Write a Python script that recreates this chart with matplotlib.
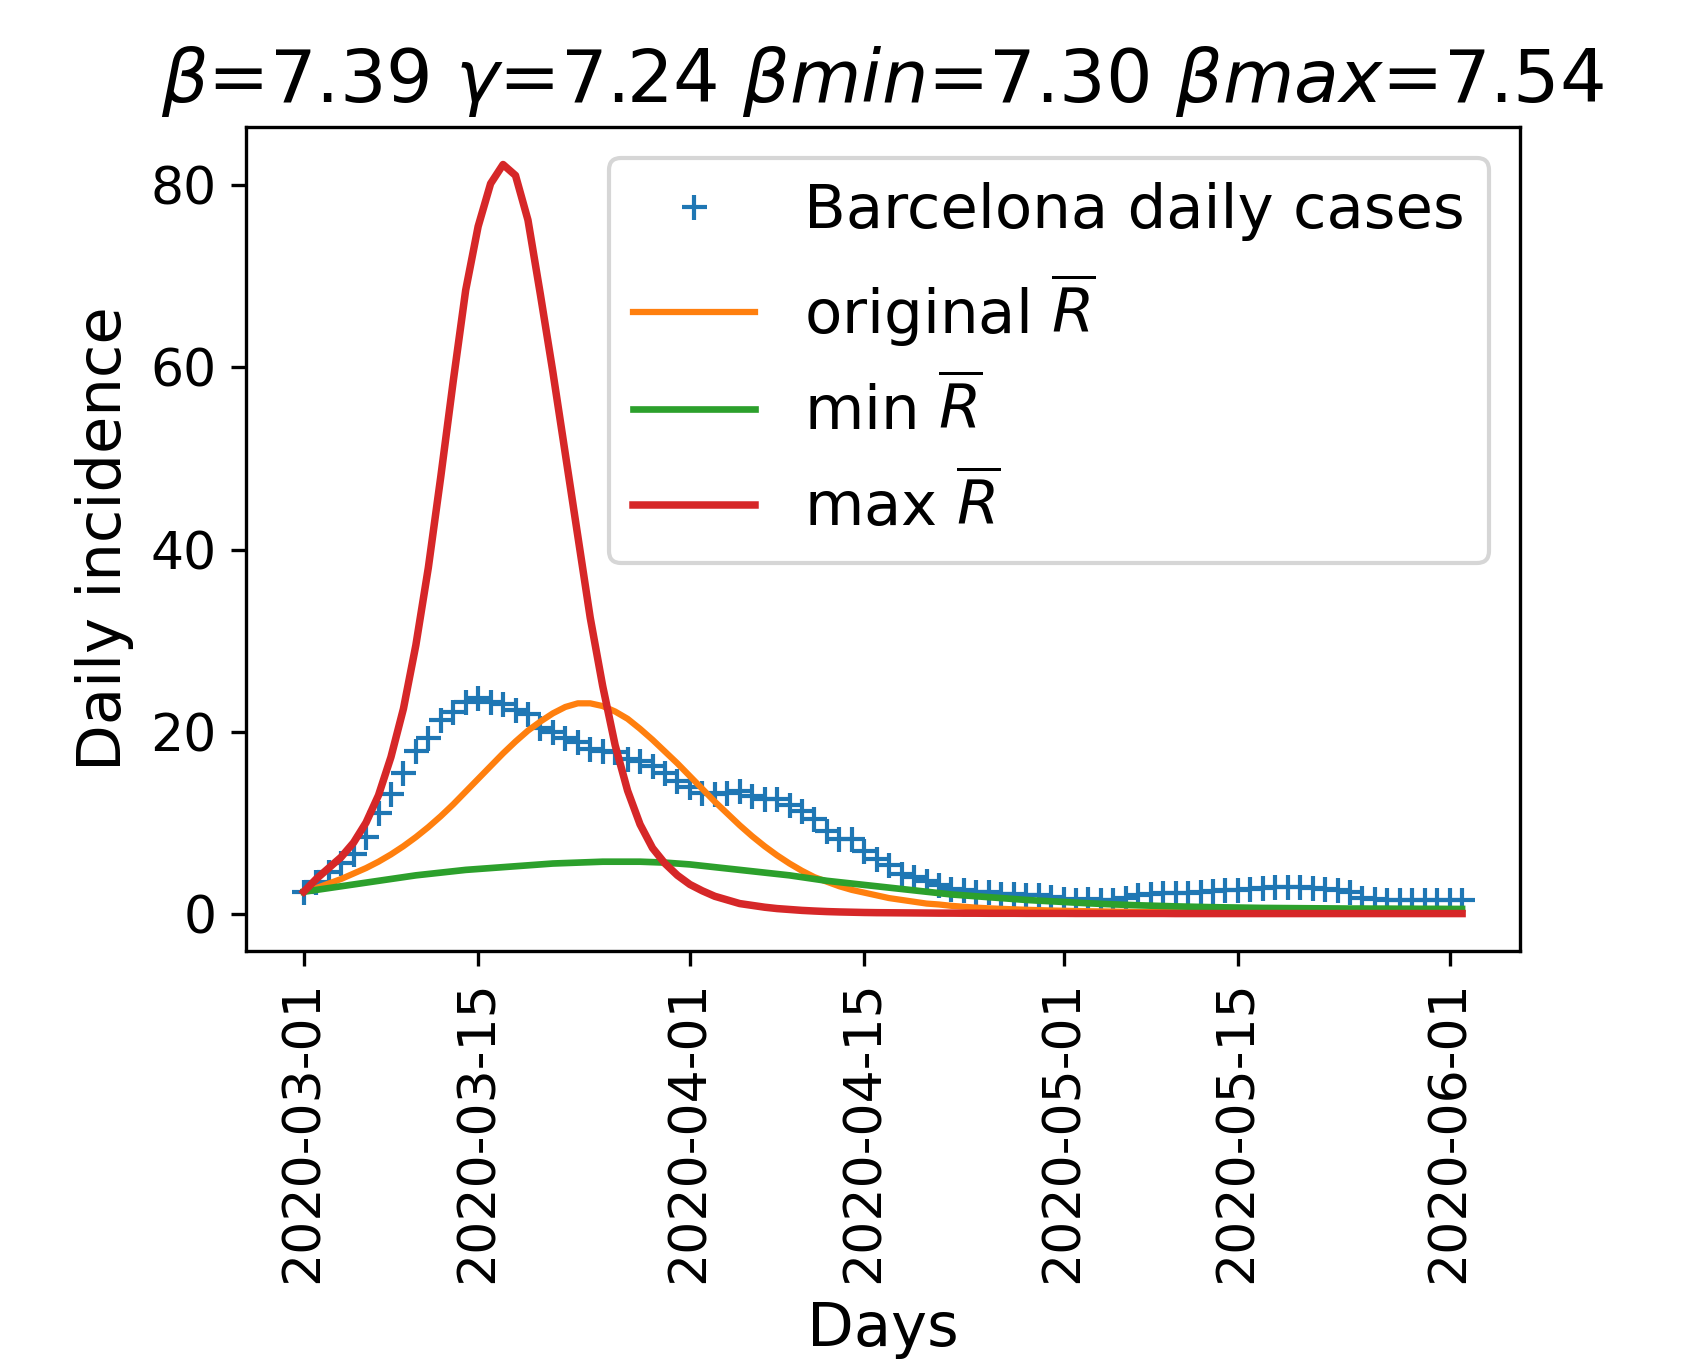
import numpy as np
import pandas as pd
import matplotlib
matplotlib.use('Agg')
from matplotlib import pyplot as plt
import matplotlib.dates as mdates

plt.rcParams['font.size'] = 12.5

days = pd.date_range('2020-03-01', '2020-06-02', freq='D')

# Barcelona daily cases
cases = [2.4, 3.5, 4.6, 5.6, 6.6, 8.4, 11.0, 13.1, 15.5, 17.9,
         19.3, 21.3, 22.2, 23.3, 23.7, 23.3, 23.0, 22.4, 21.9, 20.4,
         19.9, 19.3, 18.8, 18.1, 17.9, 17.7, 17.0, 16.8, 16.2, 15.5,
         14.6, 13.9, 13.3, 13.1, 13.3, 13.5, 12.9, 12.6, 12.6, 11.9,
         11.3, 10.4, 9.1, 8.2, 8.2, 6.9, 6.0, 5.3, 4.4, 4.0,
         3.6, 3.1, 2.7, 2.6, 2.4, 2.4, 2.2, 2.2, 2.0, 2.0,
         1.8, 1.6, 1.5, 1.6, 1.5, 1.5, 1.7, 2.0, 2.1, 2.3,
         2.3, 2.3, 2.4, 2.5, 2.6, 2.6, 2.7, 2.8, 2.9, 2.9,
         2.9, 2.8, 2.7, 2.6, 2.4, 1.7, 1.6, 1.5, 1.5, 1.5,
         1.5, 1.5, 1.5, 1.5]

orig_R = [2.4, 2.8, 3.3, 3.8, 4.4, 5.0, 5.7, 6.5, 7.4, 8.4,
          9.5, 10.7, 12.0, 13.4, 14.8, 16.2, 17.6, 18.9, 20.1, 21.1,
          22.0, 22.7, 23.1, 23.1, 22.8, 22.2, 21.4, 20.3, 19.1, 17.8,
          16.5, 15.1, 13.7, 12.3, 11.0, 9.7, 8.5, 7.4, 6.4, 5.5,
          4.7, 4.0, 3.5, 3.0, 2.6, 2.3, 2.0, 1.7, 1.5, 1.3,
          1.1, 1.0, 0.85, 0.75, 0.65, 0.58, 0.52, 0.47, 0.42, 0.38,
          0.34, 0.31, 0.28, 0.26, 0.24, 0.22, 0.2, 0.18, 0.17, 0.16,
          0.15, 0.14, 0.13, 0.12, 0.11, 0.1, 0.1, 0.09, 0.09, 0.08,
          0.08, 0.07, 0.07, 0.06, 0.06, 0.06, 0.05, 0.05, 0.05, 0.05,
          0.04, 0.04, 0.04, 0.04]

min_R = [2.4, 2.6, 2.8, 3.0, 3.2, 3.4, 3.6, 3.8, 4.0, 4.2,
         4.35, 4.5, 4.65, 4.8, 4.9, 5.0, 5.1, 5.2, 5.3, 5.4,
         5.5, 5.55, 5.6, 5.65, 5.7, 5.7, 5.7, 5.7, 5.65, 5.6,
         5.5, 5.4, 5.25, 5.1, 4.95, 4.8, 4.65, 4.5, 4.35, 4.2,
         4.0, 3.8, 3.6, 3.45, 3.3, 3.15, 3.0, 2.85, 2.7, 2.55,
         2.4, 2.25, 2.1, 2.0, 1.9, 1.8, 1.7, 1.6, 1.5, 1.42,
         1.35, 1.28, 1.2, 1.13, 1.07, 1.01, 0.96, 0.91, 0.87, 0.83,
         0.79, 0.76, 0.73, 0.7, 0.68, 0.66, 0.64, 0.62, 0.61, 0.6,
         0.59, 0.58, 0.57, 0.56, 0.55, 0.55, 0.54, 0.54, 0.53, 0.53,
         0.52, 0.52, 0.51, 0.51]

max_R = [2.4, 3.8, 5.0, 6.2, 7.8, 10.0, 13.0, 17.2, 22.5, 29.5,
         38.0, 48.0, 58.5, 68.5, 75.5, 80.2, 82.3, 81.1, 76.2, 68.0,
         59.5, 50.5, 41.5, 32.5, 25.0, 18.5, 13.5, 9.8, 7.2, 5.5,
         4.2, 3.2, 2.5, 1.9, 1.5, 1.1, 0.9, 0.7, 0.55, 0.45,
         0.35, 0.28, 0.22, 0.18, 0.15, 0.12, 0.1, 0.09, 0.08, 0.07,
         0.06, 0.05, 0.05, 0.04, 0.04, 0.03, 0.03, 0.03, 0.02, 0.02,
         0.02, 0.02, 0.01, 0.01, 0.01, 0.01, 0.01, 0.01, 0.01, 0.01,
         0.0, 0.0, 0.0, 0.0, 0.0, 0.0, 0.0, 0.0, 0.0, 0.0,
         0.0, 0.0, 0.0, 0.0, 0.0, 0.0, 0.0, 0.0, 0.0, 0.0,
         0.0, 0.0, 0.0, 0.0]

fig = plt.figure(figsize=(1684 / 300, 1359 / 300), dpi=300)
ax = fig.add_axes([0.146, 0.3002, 0.7566, 0.6063])

ax.plot(days, cases, '+', color='tab:blue', label='Barcelona daily cases')
ax.plot(days, orig_R, color='tab:orange', lw=1.5, label=r'original $\overline{R}$')
ax.plot(days, min_R, color='tab:green', lw=1.6, label=r'min $\overline{R}$')
ax.plot(days, max_R, color='tab:red', lw=1.8, label=r'max $\overline{R}$')

ax.xaxis.set_major_locator(mdates.DayLocator(bymonthday=[1, 15]))
ax.xaxis.set_major_formatter(mdates.DateFormatter('%Y-%m-%d'))
plt.setp(ax.get_xticklabels(), rotation=90)

ax.set_xlabel('Days', fontsize=14.6)
ax.set_ylabel('Daily incidence', fontsize=14.6)
ax.set_title(r'$\beta$=7.39 $\gamma$=7.24 $\beta min$=7.30 $\beta max$=7.54', fontsize=17.6)
ax.legend(loc='upper right', fontsize=14.65)

fig.savefig('out.png', dpi=300)
